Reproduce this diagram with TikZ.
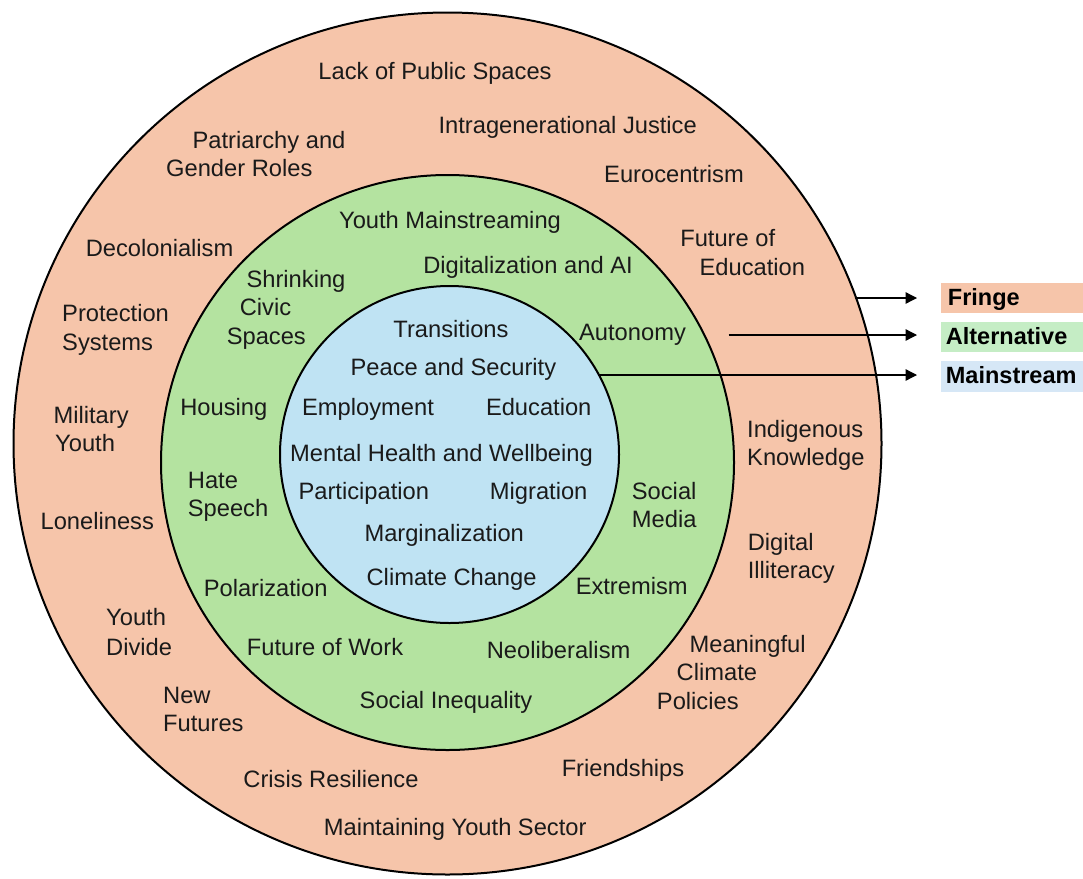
\documentclass[tikz,border=0pt]{standalone}
\usepackage{fontspec}
\setmainfont{Liberation Sans}
\usetikzlibrary{arrows.meta}

\definecolor{fringefill}{RGB}{246,197,170}
\definecolor{altfill}{RGB}{180,227,160}
\definecolor{mainfill}{RGB}{191,227,243}
\definecolor{fringekey}{RGB}{246,197,170}
\definecolor{altkey}{RGB}{197,237,197}
\definecolor{mainkey}{RGB}{214,231,246}
\definecolor{ink}{RGB}{26,26,26}

\begin{document}
\begin{tikzpicture}[x=1pt,y=-1pt,
  lbl/.style={inner sep=0pt, anchor=base, text=ink, font=\fontsize{23.7}{28}\selectfont},
  lblw/.style={lbl, anchor=base west},
  keytext/.style={inner sep=0pt, anchor=base west, text=black, font=\fontsize{23.5}{28}\selectfont\bfseries},
  ring/.style={draw=black, line width=2pt},
  pointer/.style={draw=black, line width=1.3pt, -{Triangle[length=11.5pt,width=11.5pt]}}]

\useasboundingbox (0,0) rectangle (1083,878);

% three nested rings
\draw[ring, fill=fringefill] (447.5,443.5) ellipse [x radius=434pt, y radius=431pt];
\draw[ring, fill=altfill]    (447.5,462.5) ellipse [x radius=286.5pt, y radius=287.5pt];
\draw[ring, fill=mainfill]   (449.5,454.5) ellipse [x radius=169.5pt, y radius=168.5pt];

% legend swatches
\fill[fringekey] (941,283) rectangle (1083,313);
\fill[altkey]    (941,322) rectangle (1083,352);
\fill[mainkey]   (941,361) rectangle (1083,392);

\node[keytext] (keyFringe) at (947.7,305)   {Fringe};
\node[keytext] (keyAlt)    at (945.7,344)   {Alternative};
\node[keytext] (keyMain)   at (945.7,383.3) {Mainstream};

% pointers from the rings to the legend
\coordinate (fringeOut) at (855,298);
\coordinate (fringeIn)  at (917,298);
\coordinate (altOut)    at (728.6,335);
\coordinate (altIn)     at (917,335);
\coordinate (mainOut)   at (598,375);
\coordinate (mainIn)    at (917,375);
\draw[pointer] (fringeOut) -- (fringeIn);
\draw[pointer] (altOut) -- (altIn);
\draw[pointer] (mainOut) -- (mainIn);

% fringe topics
\node[lbl]  (f1)  at (435,79.3)    {Lack of Public Spaces};
\node[lbl]  (f2)  at (567.7,133.3) {Intragenerational Justice};
\node[lbl]  (f3a) at (269,148.3)   {Patriarchy and};
\node[lbl]  (f3b) at (239.3,176.7) {Gender Roles};
\node[lbl]  (f4)  at (674,182.7)   {Eurocentrism};
\node[lbl]  (f5)  at (159.6,256)   {Decolonialism};
\node[lbl]  (f6a) at (727.7,246.7) {Future of};
\node[lbl]  (f6b) at (752.3,275.3) {Education};
\node[lblw] (f7a) at (62,321.7)    {Protection};
\node[lblw] (f7b) at (62,350)      {Systems};
\node[lblw] (f8a) at (53.4,423)    {Military};
\node[lblw] (f8b) at (55,451.7)    {Youth};
\node[lblw] (f9a) at (747,437)     {Indigenous};
\node[lblw] (f9b) at (747,465)     {Knowledge};
\node[lbl]  (f10) at (97.3,529.3)  {Loneliness};
\node[lblw] (f11a) at (747.6,550)  {Digital};
\node[lblw] (f11b) at (747.6,578.3) {Illiteracy};
\node[lblw] (f12a) at (106,625.7)  {Youth};
\node[lblw] (f12b) at (106,655)    {Divide};
\node[lbl]  (f13a) at (747.6,652.7) {Meaningful};
\node[lbl]  (f13b) at (716.9,680.7) {Climate};
\node[lbl]  (f13c) at (697.8,709.3) {Policies};
\node[lblw] (f14a) at (163,703.3)  {New};
\node[lblw] (f14b) at (163,731.7)  {Futures};
\node[lbl]  (f15) at (623,776)     {Friendships};
\node[lbl]  (f16) at (331,787.7)   {Crisis Resilience};
\node[lbl]  (f17) at (455.2,835.7) {Maintaining Youth Sector};

% alternative topics
\node[lbl]  (a1)  at (450,228.3)   {Youth Mainstreaming};
\node[lbl]  (a2)  at (528,273.3)   {Digitalization and AI};
\node[lbl]  (a3a) at (296,287.3)   {Shrinking};
\node[lbl]  (a3b) at (265.5,315)   {Civic};
\node[lbl]  (a3c) at (266.3,344)   {Spaces};
\node[lbl]  (a4)  at (632.5,340)   {Autonomy};
\node[lbl]  (a5)  at (223.8,415)   {Housing};
\node[lblw] (a6a) at (187.7,488.3) {Hate};
\node[lblw] (a6b) at (187.7,516.7) {Speech};
\node[lblw] (a7a) at (631.7,499.3) {Social};
\node[lblw] (a7b) at (631.7,527.3) {Media};
\node[lbl]  (a8)  at (631.7,594)   {Extremism};
\node[lbl]  (a9)  at (265.7,596.7) {Polarization};
\node[lbl]  (a10) at (325,655)     {Future of Work};
\node[lbl]  (a11) at (558.6,658.3) {Neoliberalism};
\node[lbl]  (a12) at (446,708.3)   {Social Inequality};

% mainstream topics
\node[lbl] (m1) at (451,337.7)   {Transitions};
\node[lbl] (m2) at (453.4,375)   {Peace and Security};
\node[lbl] (m3) at (368,415)     {Employment};
\node[lbl] (m4) at (538.7,415)   {Education};
\node[lbl] (m5) at (441.5,461.7) {Mental Health and Wellbeing};
\node[lbl] (m6) at (363.8,499.3) {Participation};
\node[lbl] (m7) at (538.7,499)   {Migration};
\node[lbl] (m8) at (444.2,541.7) {Marginalization};
\node[lbl] (m9) at (451.6,585)   {Climate Change};

\end{tikzpicture}
\end{document}
